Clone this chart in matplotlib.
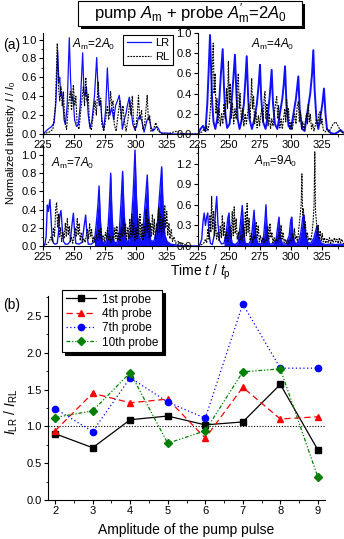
import matplotlib
matplotlib.use("Agg")
import matplotlib.pyplot as plt
from matplotlib.patches import Rectangle
from matplotlib.ticker import MultipleLocator, FixedLocator, FormatStrFormatter
import numpy as np

plt.rcParams["font.family"] = ["Liberation Sans", "DejaVu Sans"]
plt.rcParams["mathtext.fontset"] = "custom"
plt.rcParams["mathtext.rm"] = "Liberation Sans"
plt.rcParams["mathtext.it"] = "Liberation Sans:italic"

W, H = 344, 539

# ---- panel (a): intensity traces, (t, I) vertices ----
lr_2 = [(225, 0.0), (229, 0.05), (232, 0.08), (234, 0.12), (235.5, 0.35), (236.8, 0.89), (237.8, 0.55),
        (238.5, 0.60), (239.3, 0.40), (240, 0.45), (241, 0.35), (242, 0.15), (243, 0.10), (244.5, 0.30),
        (246.2, 1.02), (247.3, 0.55), (248.2, 0.35), (249.2, 0.40), (250.5, 0.15), (252, 0.08), (253.5, 0.10),
        (255, 0.30), (257, 0.86), (258, 0.45), (259, 0.40), (260, 0.50), (261.5, 0.20), (263, 0.06),
        (264.5, 0.15), (266.5, 0.40), (268.3, 0.81), (269.5, 0.45), (270.5, 0.30), (271.5, 0.35), (272.5, 0.15),
        (274, 0.05), (275.5, 0.25), (276.9, 0.70), (278, 0.40), (279, 0.20), (280.5, 0.28), (282, 0.15),
        (283.5, 0.30), (285, 0.35), (286.5, 0.41), (288, 0.25), (289, 0.05), (290.5, 0.15), (292, 0.22),
        (293, 0.30), (294.6, 0.39), (296, 0.25), (297.5, 0.10), (299, 0.05), (300.5, 0.08), (301.5, 0.15),
        (303.2, 0.20), (305, 0.12), (306.5, 0.02), (308, 0.10), (309, 0.15), (310.5, 0.18), (312, 0.08),
        (313.5, 0.03), (315, 0.05), (316.5, 0.08), (318, 0.06), (319.5, 0.02), (321, 0.01), (325, 0.01),
        (330, 0.0), (335, 0.0), (350, 0.0)]
rl_2 = [(225, 0.0), (230, 0.02), (233, 0.05), (235, 0.3), (236.5, 0.96), (237.5, 0.5), (238.5, 0.35),
        (239.5, 0.5), (240.5, 0.3), (241.5, 0.45), (242.5, 0.15), (244, 0.05), (245.5, 0.3), (247, 0.45),
        (248, 0.25), (249.5, 0.52), (250.5, 0.3), (251.5, 0.4), (252.5, 0.1), (254, 0.05), (255.5, 0.25),
        (257.5, 0.5), (258.5, 0.3), (259.5, 0.6), (260.5, 0.35), (261.5, 0.42), (262.5, 0.1), (264, 0.04),
        (265.5, 0.2), (267, 0.35), (268, 0.2), (269.5, 0.55), (270.5, 0.3), (271.5, 0.38), (272.5, 0.1),
        (274, 0.03), (275.5, 0.15), (277, 0.3), (278, 0.15), (279.5, 0.45), (280.5, 0.3), (281.5, 0.35),
        (282.5, 0.1), (284, 0.03), (285.5, 0.2), (287, 0.35), (288, 0.15), (289.5, 0.3), (290.5, 0.15),
        (292, 0.03), (293.5, 0.15), (295, 0.35), (296, 0.2), (297, 0.4), (298, 0.15), (299.5, 0.03),
        (301, 0.2), (302, 0.41), (303, 0.15), (304.5, 0.25), (305.5, 0.05), (307, 0.1), (309, 0.41),
        (310, 0.15), (311, 0.2), (312, 0.03), (314, 0.05), (316, 0.12), (317.5, 0.04), (320, 0.01),
        (325, 0.0), (330, 0.02), (333, 0.03), (336, 0.01), (340, 0.0), (350, 0.0)]

lr_4 = [(225, 0.0), (227, 0.05), (229, 0.08), (231, 0.03), (232.5, 0.3), (233.5, 0.6), (234.7, 0.98),
        (235.8, 0.55), (236.5, 0.3), (237.5, 0.12), (239, 0.05), (240.5, 0.15), (242, 0.3), (243.5, 0.6),
        (244.9, 0.84), (246, 0.45), (247, 0.2), (248.5, 0.06), (250.5, 0.1), (252, 0.3), (253.5, 0.55),
        (254.8, 0.785), (256, 0.4), (257, 0.15), (258.5, 0.05), (260.5, 0.15), (262, 0.3), (263.3, 0.55),
        (264.3, 0.77), (265.5, 0.35), (266.5, 0.15), (268.5, 0.05), (270.5, 0.15), (272.5, 0.3), (274, 0.5),
        (275, 0.685), (276, 0.35), (277.5, 0.12), (279.5, 0.05), (281.5, 0.2), (283, 0.4), (284.4, 0.635),
        (285.5, 0.3), (287, 0.1), (289, 0.05), (291, 0.2), (293, 0.35), (294.2, 0.5), (295.2, 0.67),
        (296.3, 0.3), (298, 0.08), (300, 0.05), (302, 0.2), (304, 0.35), (305.9, 0.57), (307, 0.25),
        (309, 0.05), (311, 0.03), (313, 0.2), (315.5, 0.4), (317, 0.6), (318, 0.83), (319, 0.45),
        (320.5, 0.15), (322, 0.05), (323.5, 0.15), (325.3, 0.3), (326.6, 0.45), (327.8, 0.2), (329, 0.05),
        (332, 0.01), (335, 0.0), (338, 0.02), (340, 0.04), (341.5, 0.02), (345, 0.0)]
rl_4 = [(225, 0.0), (228, 0.02), (230, 0.05), (231, 0.02), (232, 0.08), (233, 0.03), (234, 0.1), (235, 0.25),
        (236, 0.5), (237.3, 0.90), (238, 0.4), (238.8, 0.6), (239.5, 0.2), (240.3, 0.35), (241, 0.1),
        (242, 0.25), (243, 0.08), (244, 0.2), (245, 0.1), (246, 0.3), (247, 0.15), (248, 0.45), (248.8, 0.25),
        (249.5, 0.72), (250.3, 0.3), (251, 0.5), (251.8, 0.15), (252.8, 0.3), (253.8, 0.1), (254.8, 0.25),
        (255.8, 0.15), (256.6, 0.45), (257.5, 0.6), (258.3, 0.25), (259, 0.4), (260, 0.12), (261, 0.25),
        (262, 0.08), (263, 0.2), (264, 0.1), (265, 0.2), (266, 0.3), (267, 0.15), (268.3, 0.55), (269, 0.25),
        (269.8, 0.38), (270.7, 0.1), (271.7, 0.22), (272.7, 0.06), (273.7, 0.18), (274.7, 0.08), (275.7, 0.2),
        (276.7, 0.25), (277.5, 0.12), (278.3, 0.35), (279, 0.42), (279.8, 0.15), (280.6, 0.3), (281.5, 0.08),
        (282.5, 0.2), (283.5, 0.05), (284.5, 0.15), (285.5, 0.08), (286.5, 0.2), (287.5, 0.3), (288.5, 0.37),
        (289.3, 0.15), (290, 0.28), (291, 0.06), (292, 0.15), (293, 0.05), (294, 0.15), (295, 0.25),
        (295.8, 0.12), (296.5, 0.34), (297.3, 0.15), (298, 0.25), (299, 0.05), (300, 0.12), (301, 0.04),
        (302, 0.12), (303, 0.2), (304, 0.1), (305, 0.28), (305.9, 0.32), (306.7, 0.12), (307.5, 0.22),
        (308.5, 0.05), (309.5, 0.12), (310.5, 0.04), (311.5, 0.12), (312.5, 0.2), (313.3, 0.1), (314, 0.29),
        (314.8, 0.12), (315.6, 0.2), (316.5, 0.05), (317.5, 0.1), (318.5, 0.03), (319.5, 0.08), (320.5, 0.15),
        (321.5, 0.08), (322.5, 0.2), (323.4, 0.22), (324.2, 0.1), (325, 0.15), (326, 0.04), (327.5, 0.02),
        (329, 0.05), (330.5, 0.02), (332, 0.05), (334, 0.1), (336, 0.12), (338, 0.08), (340, 0.03),
        (342, 0.01), (345, 0.0)]

lr_7 = [(225, 0.0), (226.5, 0.02), (227.5, 0.1), (228.5, 0.45), (229.3, 0.38), (230.6, 0.51), (231.5, 0.3),
        (232.3, 0.1), (233.5, 0.03), (235, 0.02), (236.5, 0.03), (237.5, 0.15), (238.5, 0.33), (239.5, 0.39),
        (240.5, 0.2), (241.5, 0.05), (243, 0.02), (245, 0.02), (247, 0.05), (248.5, 0.25), (249.5, 0.36),
        (250.5, 0.15), (251.5, 0.03), (254, 0.02), (256.5, 0.04), (258, 0.2), (259.4, 0.34), (260.5, 0.12),
        (261.5, 0.02), (264, 0.02), (266.5, 0.05), (268, 0.25), (269.3, 0.45), (270.2, 0.66), (271.2, 0.3),
        (272.5, 0.05), (275, 0.03), (277, 0.1), (278.5, 0.45), (279.6, 0.80), (280.6, 0.35), (282, 0.05),
        (284.5, 0.03), (286.5, 0.15), (288, 0.5), (289.2, 0.82), (290.3, 0.4), (291.8, 0.06), (294, 0.05),
        (296, 0.2), (297.8, 0.6), (299.2, 1.055), (300.3, 0.55), (301.8, 0.15), (303.5, 0.05), (305.5, 0.15),
        (307.8, 0.55), (309.1, 0.78), (310.2, 0.35), (311.8, 0.06), (314.5, 0.05), (317, 0.2), (319.2, 0.6),
        (320.7, 0.87), (321.8, 0.45), (323.3, 0.12), (325, 0.05), (328, 0.02), (333, 0.01), (340, 0.0),
        (350, 0.0)]
rl_7 = [(225, 0.0), (228, 0.02), (230, 0.05), (231.5, 0.1), (232.5, 0.05), (233.5, 0.2), (234.3, 0.1),
        (235.2, 0.4), (236, 0.48), (236.8, 0.2), (237.6, 0.35), (238.4, 0.1), (239.2, 0.2), (240, 0.05),
        (241, 0.15), (242, 0.08), (243, 0.25), (243.8, 0.1), (244.6, 0.3), (245.4, 0.12), (246.2, 0.22),
        (247, 0.05), (248, 0.1), (249, 0.03), (250, 0.12), (251, 0.2), (251.8, 0.1), (252.6, 0.3),
        (253.4, 0.12), (254.2, 0.25), (255, 0.06), (256, 0.15), (257, 0.04), (258, 0.08), (259, 0.04),
        (260, 0.12), (261, 0.18), (261.8, 0.08), (262.6, 0.25), (263.4, 0.1), (264.2, 0.18), (265, 0.04),
        (266, 0.1), (267, 0.04), (268, 0.12), (269, 0.06), (270, 0.18), (270.8, 0.08), (271.6, 0.2),
        (272.4, 0.05), (273.4, 0.12), (274.4, 0.05), (275.4, 0.15), (276.2, 0.08), (277, 0.2), (277.8, 0.06),
        (278.8, 0.12), (279.8, 0.04), (281, 0.1), (282, 0.05), (283, 0.2), (283.8, 0.08), (284.6, 0.22),
        (285.4, 0.06), (286.4, 0.15), (287.2, 0.05), (288.2, 0.2), (289, 0.1), (290, 0.3), (290.8, 0.12),
        (291.6, 0.25), (292.4, 0.06), (293.4, 0.2), (294.2, 0.08), (295, 0.3), (295.8, 0.1), (296.6, 0.35),
        (297.4, 0.12), (298.2, 0.25), (299, 0.05), (300, 0.2), (300.8, 0.08), (301.6, 0.3), (302.4, 0.12),
        (303.2, 0.35), (304, 0.1), (304.8, 0.25), (305.6, 0.06), (306.6, 0.22), (307.4, 0.1), (308.2, 0.4),
        (309, 0.15), (309.8, 0.3), (310.6, 0.08), (311.6, 0.25), (312.4, 0.1), (313.2, 0.35), (314, 0.12),
        (314.8, 0.3), (315.6, 0.08), (316.6, 0.25), (317.4, 0.12), (318.2, 0.42), (319, 0.15), (319.8, 0.35),
        (320.6, 0.1), (321.6, 0.3), (322.4, 0.15), (323.2, 0.45), (324, 0.2), (324.8, 0.38), (325.6, 0.12),
        (326.6, 0.25), (327.4, 0.08), (328.4, 0.18), (329.4, 0.05), (330.6, 0.1), (332, 0.03), (334, 0.05),
        (336, 0.02), (338, 0.03), (340, 0.01), (345, 0.0)]

lr_9 = [(225, 0.0), (226.5, 0.02), (228, 0.1), (229, 0.35), (230, 0.48), (231, 0.3), (232, 0.42), (232.8, 0.48),
        (233.8, 0.2), (235, 0.04), (236.5, 0.02), (238, 0.15), (239.3, 0.55), (240.1, 0.72), (241, 0.35),
        (242.3, 0.08), (244, 0.03), (246, 0.04), (247.8, 0.2), (249, 0.4), (250, 0.48), (251, 0.2),
        (252.5, 0.04), (255, 0.02), (257.5, 0.06), (259.3, 0.35), (260.7, 0.59), (261.7, 0.25), (263, 0.04),
        (266, 0.03), (268, 0.1), (269.3, 0.35), (270.2, 0.52), (271.3, 0.2), (273, 0.04), (276, 0.03),
        (278, 0.15), (279.1, 0.4), (279.8, 0.6), (280.8, 0.2), (282.5, 0.03), (285.5, 0.03), (288, 0.1),
        (289.4, 0.3), (290.3, 0.42), (291.3, 0.15), (293, 0.03), (296, 0.03), (298.5, 0.15), (299.8, 0.38),
        (300.6, 0.42), (301.6, 0.15), (303.5, 0.03), (306, 0.05), (308, 0.2), (309.5, 0.42), (310.5, 0.45),
        (311.6, 0.2), (313.5, 0.05), (316, 0.04), (318.5, 0.12), (320.3, 0.25), (321.2, 0.3), (322.3, 0.12),
        (324.5, 0.04), (328, 0.02), (332, 0.03), (336, 0.02), (340, 0.03), (345, 0.0)]
rl_9 = [(225, 0.0), (228, 0.02), (230, 0.05), (231, 0.1), (232, 0.05), (233, 0.25), (233.8, 0.1), (234.6, 0.45),
        (235.4, 0.2), (236, 0.72), (236.8, 0.25), (237.6, 0.5), (238.4, 0.15), (239.2, 0.35), (240, 0.1),
        (241, 0.2), (242, 0.08), (243, 0.3), (243.8, 0.12), (244.6, 0.45), (245.4, 0.15), (246.2, 0.35),
        (247, 0.08), (248, 0.2), (249, 0.05), (250, 0.15), (251, 0.3), (251.8, 0.12), (252.6, 0.5),
        (253.4, 0.15), (254.2, 0.57), (255, 0.18), (255.8, 0.4), (256.6, 0.1), (257.6, 0.2), (258.6, 0.05),
        (259.6, 0.15), (260.6, 0.08), (261.6, 0.3), (262.4, 0.12), (263.2, 0.5), (264, 0.15), (264.6, 0.62),
        (265.4, 0.2), (266.2, 0.4), (267, 0.08), (268, 0.18), (269, 0.05), (270, 0.15), (271, 0.1),
        (272, 0.35), (272.8, 0.12), (273.6, 0.3), (274.4, 0.06), (275.4, 0.15), (276.4, 0.05), (277.4, 0.12),
        (278.4, 0.05), (279.4, 0.1), (280.4, 0.08), (281.4, 0.28), (282.2, 0.1), (283, 0.33), (283.8, 0.12),
        (284.6, 0.2), (285.4, 0.05), (286.4, 0.12), (287.4, 0.04), (288.4, 0.1), (289.4, 0.05), (290.4, 0.2),
        (291.2, 0.1), (292, 0.3), (292.8, 0.1), (293.6, 0.2), (294.4, 0.05), (295.4, 0.1), (296.4, 0.04),
        (297.4, 0.08), (298.4, 0.04), (299.4, 0.1), (300.4, 0.06), (301.2, 0.18), (302, 0.08), (302.8, 0.25),
        (303.6, 0.1), (304.4, 0.15), (305.2, 0.05), (306, 0.2), (306.8, 0.35), (307.6, 0.5), (308.2, 0.6),
        (308.8, 1.05), (309.4, 0.45), (310, 0.55), (310.8, 0.25), (311.6, 0.35), (312.4, 0.12), (313.2, 0.2),
        (314, 0.08), (315, 0.12), (316, 0.08), (317, 0.2), (317.8, 0.35), (318.6, 0.6), (319.2, 1.37),
        (319.8, 0.5), (320.5, 0.35), (321.2, 0.15), (322, 0.3), (322.8, 0.1), (323.6, 0.22), (324.4, 0.08),
        (325.2, 0.18), (326, 0.06), (327, 0.12), (328, 0.04), (329, 0.1), (330, 0.05), (331, 0.12),
        (332, 0.04), (333, 0.1), (334, 0.05), (335, 0.12), (336, 0.06), (337, 0.1), (338, 0.04), (339, 0.12),
        (340, 0.05), (341, 0.1), (342, 0.04), (345, 0.0)]

pump_labels = ["2", "4", "7", "9"]
time_ticks = [225, 250, 275, 300, 325]

# ---- panel (b): ratio I_LR / I_RL vs pump amplitude ----
amplitude = [2, 3, 4, 5, 6, 7, 8, 9]
probe_1 = [0.90, 0.71, 1.09, 1.14, 1.02, 1.06, 1.57, 0.68]
probe_4 = [0.94, 1.45, 1.32, 1.37, 0.84, 1.53, 1.10, 1.13]
probe_7 = [1.24, 0.93, 1.66, 1.33, 1.11, 2.66, 1.79, 1.79]
probe_10 = [1.12, 1.21, 1.73, 0.77, 0.94, 1.74, 1.78, 0.31]


def px_axes(fig, x0, y0, x1, y1):
    # pixel box (top-left origin) -> figure axes
    return fig.add_axes([x0 / W, 1 - y1 / H, (x1 - x0) / W, (y1 - y0) / H])


def style_axes(ax):
    for side in ("top", "right"):
        ax.spines[side].set_visible(False)
    ax.patch.set_alpha(0)
    ax.tick_params(which="major", direction="out", length=3, width=0.8, labelsize=8, pad=1.5)
    ax.tick_params(which="minor", direction="out", length=1.8, width=0.6)


fig = plt.figure(figsize=(W / 100, H / 100), dpi=100)

boxes = [(43, 33, 198, 134), (198, 33, 353, 134), (43, 145, 198, 246), (198, 145, 353, 246)]
traces = [(lr_2, rl_2), (lr_4, rl_4), (lr_7, rl_7), (lr_9, rl_9)]
ylims = [(0, 1.07), (0, 1.0), (0, 1.11), (0, 1.47)]
ysteps = [0.2, 0.2, 0.2, 0.3]
blue_lw = [0.9, 1.4, 1.0, 1.0]
fill_from = [None, None, 265, 245]
label_pos = [(94, 44), (273, 44), (73, 163), (276, 161)]

for box, (lr, rl), ylim, step, lw, ff, lab, pl in zip(
        boxes, traces, ylims, ysteps, blue_lw, fill_from, label_pos, pump_labels):
    ax = px_axes(fig, *box)
    style_axes(ax)
    t_lr, i_lr = np.array(lr).T
    t_rl, i_rl = np.array(rl).T
    line_rl, = ax.plot(t_rl, i_rl, color="black", lw=0.8, ls=(0, (1.6, 1.0)), zorder=3)
    line_lr, = ax.plot(t_lr, i_lr, color="#1010ff", lw=lw, zorder=2)
    if ff is not None:
        ax.fill_between(t_lr, 0, i_lr, where=t_lr >= ff, color="#1010ff", lw=0, zorder=2)
    ax.set_xlim(225, 350)
    ax.set_ylim(*ylim)
    ax.xaxis.set_major_locator(FixedLocator(time_ticks))
    ax.xaxis.set_minor_locator(MultipleLocator(12.5))
    ax.yaxis.set_major_locator(MultipleLocator(step))
    ax.yaxis.set_minor_locator(MultipleLocator(step / 2))
    ax.yaxis.set_major_formatter(FormatStrFormatter("%.1f"))
    fig.text(lab[0] / W, 1 - lab[1] / H, r"$A_\mathrm{m}$=" + pl + r"$A_0$",
             ha="center", va="center", fontsize=8.5)
    if box == boxes[0]:
        leg = ax.legend([line_lr, line_rl], ["LR", "RL"], loc="upper right",
                        bbox_to_anchor=(173 / W, 1 - 35 / H), bbox_transform=fig.transFigure,
                        fontsize=8, frameon=True, fancybox=False, edgecolor="black",
                        framealpha=1, handlelength=2.2, handletextpad=0.4, borderpad=0.3,
                        labelspacing=0.3, borderaxespad=0)
        leg.get_frame().set_linewidth(0.8)

fig.text(12 / W, 1 - 45 / H, "(a)", ha="center", va="center", fontsize=10)
fig.text(11 / W, 1 - 143 / H, r"Normalized intensity $I$ / $I_0$", rotation=90,
         ha="center", va="center", fontsize=8)
fig.text(200 / W, 1 - 272 / H, r"Time $t$ / $t_\mathrm{p}$", ha="center", va="center", fontsize=10)

# title box with black drop shadow
fig.add_artist(Rectangle((81 / W, 1 - 29 / H), 224 / W, 25 / H, transform=fig.transFigure,
                         facecolor="black", edgecolor="none"))
fig.add_artist(Rectangle((78 / W, 1 - 26 / H), 224 / W, 25 / H, transform=fig.transFigure,
                         facecolor="white", edgecolor="black", lw=0.8))
fig.text(190 / W, 1 - 13.5 / H, r"pump $A_\mathrm{m}$ + probe $A^{\prime}_\mathrm{m}$=2$A_0$",
         ha="center", va="center", fontsize=12)

# ---- panel (b) ----
axb = px_axes(fig, 48, 296, 325, 500)
style_axes(axb)
axb.axhline(1.0, color="black", lw=0.8, ls=(0, (1, 1.5)), zorder=1)
axb.plot(amplitude, probe_1, color="black", lw=0.9, marker="s", ms=4.2, label="1st probe")
axb.plot(amplitude, probe_4, color="#ff0000", lw=0.9, ls=(0, (5, 3)), marker="^", ms=5,
         label="4th probe")
axb.plot(amplitude, probe_7, color="#0000ff", lw=0.9, ls=(0, (1, 2)), marker="o", ms=4.5,
         label="7th probe")
axb.plot(amplitude, probe_10, color="#008000", lw=0.9, ls=(0, (3, 1.5, 1, 1.5, 1, 1.5)), marker="D",
         ms=4, label="10th probe")
axb.set_xlim(1.81, 9.19)
axb.set_ylim(0, 2.77)
axb.xaxis.set_major_locator(MultipleLocator(1))
axb.xaxis.set_minor_locator(MultipleLocator(0.5))
axb.yaxis.set_major_locator(MultipleLocator(0.5))
axb.yaxis.set_minor_locator(MultipleLocator(0.25))
axb.yaxis.set_major_formatter(FormatStrFormatter("%.1f"))
axb.set_xlabel("Amplitude of the pump pulse", fontsize=10, labelpad=5)
axb.set_ylabel(r"$I_\mathrm{LR}$ / $I_\mathrm{RL}$", fontsize=10)
axb.yaxis.set_label_coords(20 / W, 1 - 412 / H, transform=fig.transFigure)
legb = axb.legend(loc="upper left", bbox_to_anchor=(62 / W, 1 - 290 / H), bbox_transform=fig.transFigure,
                  fontsize=8.5, frameon=True, fancybox=False, edgecolor="black", framealpha=1,
                  handlelength=2.6, handletextpad=0.5, borderpad=0.3, labelspacing=0.2, borderaxespad=0,
                  shadow={"color": "black", "alpha": 1})
legb.get_frame().set_linewidth(0.8)
fig.text(12 / W, 1 - 305 / H, "(b)", ha="center", va="center", fontsize=10)

fig.savefig("out.png", dpi=100)
